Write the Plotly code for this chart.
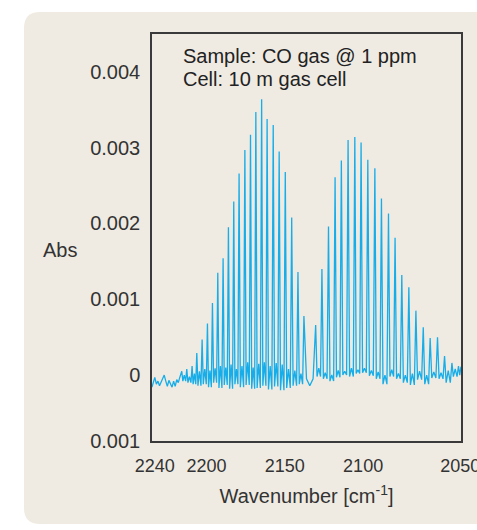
import numpy as np
import plotly.graph_objects as go

# ---- CO fundamental band, 10 m gas cell (absorbance in units of 1e-3) ----
# Rotational line centres (cm-1) and peak heights, R branch then P branch
r_branch_wn = [2215.8, 2212.6, 2209.2, 2206.2, 2202.8, 2199.4, 2196.2, 2192.8,
               2189.4, 2186.0, 2182.6, 2179.2, 2175.5, 2171.9, 2168.5, 2164.8,
               2161.3, 2157.4, 2153.6, 2149.7, 2145.6, 2141.6, 2137.8]
r_branch_mabs = [0.05, 0.08, 0.12, 0.29, 0.47, 0.68, 0.95, 1.35,
                 1.54, 1.95, 2.29, 2.66, 2.97, 3.17, 3.47, 3.64,
                 3.38, 3.30, 2.95, 2.68, 2.08, 1.36, 0.78]
p_branch_wn = [2130.3, 2126.3, 2122.1, 2117.9, 2113.9, 2109.6, 2105.3, 2101.3,
               2097.0, 2092.5, 2088.3, 2083.8, 2079.6, 2075.3, 2070.8, 2066.3,
               2061.6, 2057.2, 2052.5, 2048.0, 2043.3, 2039.1]
p_branch_mabs = [0.66, 1.40, 1.96, 2.61, 2.83, 3.10, 3.14, 3.07,
                 2.84, 2.73, 2.33, 2.13, 1.81, 1.32, 1.16, 0.85,
                 0.63, 0.49, 0.50, 0.25, 0.16, 0.12]

# Trough level and weak interleaved feature between neighbouring lines
gap_low_mabs = [-0.08, -0.10, -0.12, -0.14, -0.12, -0.16, -0.10, -0.17,
                -0.13, -0.18, -0.12, -0.16, -0.13, -0.18, -0.17, -0.14,
                -0.19, -0.15, -0.20, -0.17, -0.14, -0.12,
                -0.05,
                -0.02, -0.05, -0.08, -0.03, 0.00, -0.02, 0.02, 0.03,
                -0.01, -0.05, -0.12, -0.02, -0.05, -0.10, -0.13, -0.06,
                -0.12, -0.04, -0.05, -0.10, -0.02]
gap_bump_mabs = [0.00, -0.02, 0.02, 0.05, 0.08, 0.06, 0.09, 0.12,
                 0.10, 0.14, 0.08, 0.12, 0.17, 0.10, 0.15, 0.17,
                 0.12, 0.16, 0.14, 0.08, 0.06, 0.02,
                 -0.14,
                 0.09, 0.03, 0.00, 0.06, 0.05, 0.09, 0.07, 0.09,
                 0.06, 0.04, 0.00, 0.07, 0.02, 0.00, 0.02, 0.05,
                 0.00, 0.04, 0.03, 0.06, 0.08]

# Noisy baseline on the high-wavenumber side and the low-wavenumber end
left_wing_wn = [2234.8, 2234.0, 2233.0, 2232.0, 2231.0, 2230.0, 2229.0, 2228.0,
                2227.0, 2226.0, 2225.0, 2224.0, 2223.0, 2222.0, 2221.0, 2220.0,
                2219.0, 2218.0, 2217.2]
left_wing_mabs = [-0.16, -0.10, -0.03, -0.12, -0.08, -0.14, -0.10, -0.04,
                  0.00, -0.08, -0.15, -0.07, -0.12, -0.16, -0.08, -0.15,
                  -0.06, -0.10, -0.04]
right_tail_wn = [2038.3, 2037.5]
right_tail_mabs = [0.00, 0.11]

# Axis ticks
x_range = [2234.8, 2037.5]
x_tick_vals = [2233.1, 2200, 2150, 2100, 2038.0]
x_tick_text = ["2240", "2200", "2150", "2100", "2050"]
y_range = [-0.00087, 0.0045]
y_tick_vals = [-0.00087, 0.0, 0.001, 0.002, 0.003, 0.004]
y_tick_text = ["0.001", "0", "0.001", "0.002", "0.003", "0.004"]

# ---- assemble the trace: wing, then each line with its troughs ----
line_wn = r_branch_wn + p_branch_wn
line_mabs = r_branch_mabs + p_branch_mabs
FOOT = 0.22  # fraction of line spacing from centre to the trough

xs = list(left_wing_wn)
ys = list(left_wing_mabs)
for i, (w, h) in enumerate(zip(line_wn, line_mabs)):
    xs.append(w)
    ys.append(h)
    if i < len(line_wn) - 1:
        w2 = line_wn[i + 1]
        d = w - w2
        xs += [w - FOOT * d, 0.5 * (w + w2), w2 + FOOT * d]
        ys += [gap_low_mabs[i], gap_bump_mabs[i], gap_low_mabs[i]]
xs += right_tail_wn
ys += right_tail_mabs
ys = np.array(ys) * 1e-3

fig = go.Figure()
fig.add_trace(go.Scatter(x=xs, y=ys, mode="lines",
                         line=dict(color="#17ade9", width=1.3),
                         hoverinfo="skip", showlegend=False))

# ---- page geometry ----
W, H = 477, 530
ML, MR, MT, MB = 152, 16, 34, 89
pw, ph = W - ML - MR, H - MT - MB


def px(x):
    return (x - ML) / pw


def py(y):
    return (H - MB - y) / ph


# rounded beige panel behind the plot
x0, x1, y0, y1 = px(24), px(495), py(524), py(12)
rx, ry = 16 / pw, 16 / ph
panel = (f"M {x0 + rx},{y1} L {x1},{y1} L {x1},{y0} L {x0 + rx},{y0} "
         f"Q {x0},{y0} {x0},{y0 + ry} L {x0},{y1 - ry} Q {x0},{y1} {x0 + rx},{y1} Z")
fig.add_shape(type="path", path=panel, xref="paper", yref="paper",
              fillcolor="#efebe2", line=dict(width=0), layer="below")

FONT = "Liberation Sans, Arial, sans-serif"
TXT = "#333333"

fig.add_annotation(x=px(181), y=py(56), xref="paper", yref="paper",
                   text="Sample: CO gas @ 1 ppm", showarrow=False,
                   xanchor="left", yanchor="middle",
                   font=dict(family=FONT, size=20, color="#222222"))
fig.add_annotation(x=px(181), y=py(78.5), xref="paper", yref="paper",
                   text="Cell: 10 m gas cell", showarrow=False,
                   xanchor="left", yanchor="middle",
                   font=dict(family=FONT, size=20, color="#222222"))
fig.add_annotation(x=px(59.5), y=py(250), xref="paper", yref="paper",
                   text="Abs", showarrow=False,
                   xanchor="center", yanchor="middle",
                   font=dict(family=FONT, size=20, color=TXT))

fig.update_layout(
    width=W, height=H,
    margin=dict(l=ML, r=MR, t=MT, b=MB, pad=0, autoexpand=False),
    paper_bgcolor="#ffffff", plot_bgcolor="#ffffff",
    font=dict(family=FONT, color=TXT),
    showlegend=False,
)
fig.update_xaxes(range=x_range, tickmode="array", tickvals=x_tick_vals,
                 ticktext=x_tick_text, ticks="", showgrid=False, zeroline=False,
                 showline=True, mirror=True, linecolor="#3a3a3a", linewidth=1.5,
                 tickfont=dict(size=18, color=TXT), ticklabelstandoff=8,
                 ticklabeloverflow="allow", automargin=False,
                 title=dict(text="Wavenumber [cm<sup>-1</sup>]",
                            font=dict(size=20, color=TXT), standoff=14))
fig.update_yaxes(range=y_range, tickmode="array", tickvals=y_tick_vals,
                 ticktext=y_tick_text, ticks="", showgrid=False, zeroline=False,
                 showline=True, mirror=True, linecolor="#3a3a3a", linewidth=1.5,
                 tickfont=dict(size=20, color=TXT), ticklabelstandoff=6,
                 ticklabeloverflow="allow", automargin=False)

fig.write_html("out.html")
